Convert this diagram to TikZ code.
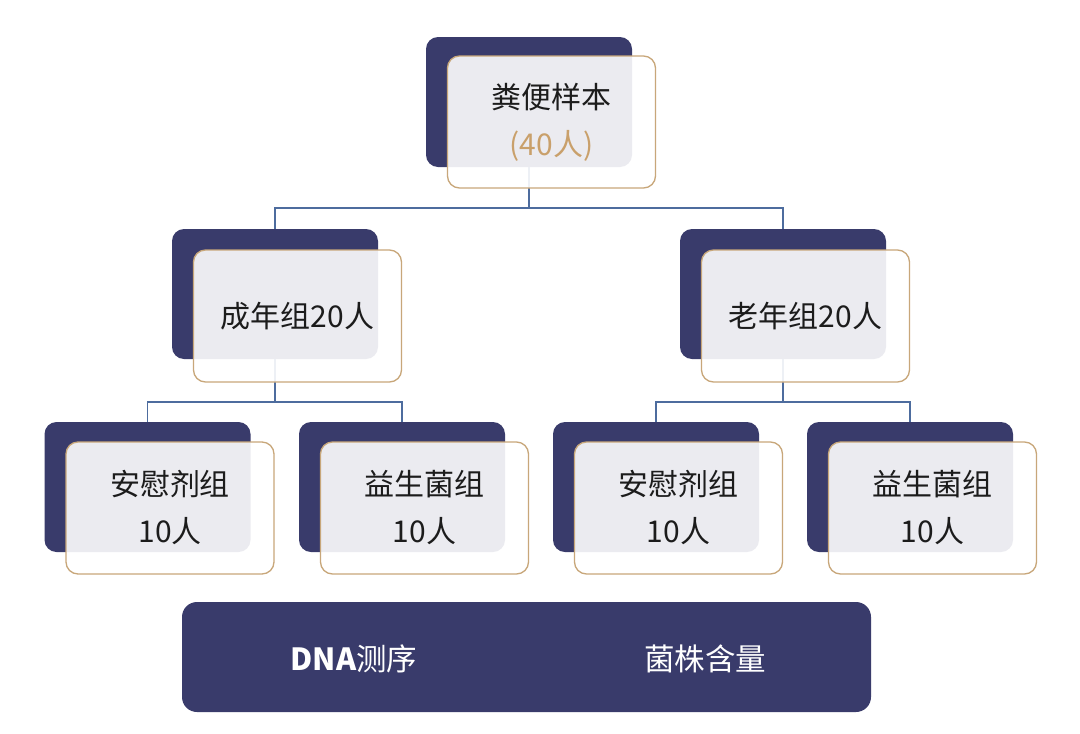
\documentclass[tikz,border=0pt]{standalone}
\usepackage{fontspec}
\setmainfont{Noto Sans CJK SC}
\usetikzlibrary{calc}
\definecolor{navy}{HTML}{393B6B}
\definecolor{tan}{HTML}{C8A77A}
\definecolor{tantext}{HTML}{C9A06B}
\definecolor{linkblue}{HTML}{4D6C9E}
\definecolor{ink}{HTML}{1C1C1C}
\tikzset{
	back/.style={fill=navy, rounded corners=12pt, minimum width=206pt, minimum height=130pt, inner sep=0pt},
	front/.style={draw=tan, line width=1.3pt, fill=white, fill opacity=0.9, text opacity=1, rounded corners=12pt,
		minimum width=208pt, minimum height=132pt, inner sep=0pt, align=center, text=ink,
		font=\fontsize{30}{47}\selectfont},
	link/.style={draw=linkblue, line width=1.5pt},
	bartext/.style={text=white, font=\fontsize{30.5}{36}\selectfont}
}

\begin{document}
\begin{tikzpicture}[x=1pt, y=1pt]
			%%%%% START %%%%%
			
			\fill[white] (0,0) rectangle (1080,-734);
			\useasboundingbox (0,0) rectangle (1080,-734);
			
			% back cards
			\node[back] (sample-d) at (529,-102) {};
			\node[back] (adult-d) at (275,-294) {};
			\node[back] (elder-d) at (783,-294) {};
			\node[back] (aplac-d) at (147.5,-487) {};
			\node[back] (aprob-d) at (402,-487) {};
			\node[back] (eplac-d) at (656,-487) {};
			\node[back] (eprob-d) at (910,-487) {};
			
			% tree lines
			\draw[link] (sample-d.south) -- ++(0,-41) coordinate (j0);
			\draw[link] (adult-d.north) |- (j0) -| (elder-d.north);
			\draw[link] (adult-d.south) -- ++(0,-43) coordinate (j1);
			\draw[link] (aplac-d.north) |- (j1) -| (aprob-d.north);
			\draw[link] (elder-d.south) -- ++(0,-43) coordinate (j2);
			\draw[link] (eplac-d.north) |- (j2) -| (eprob-d.north);
			
			% front cards
			\node[front] (sample) at ([shift={(22.5,-20)}]sample-d.center) {粪便样本\\{\color{tantext}(40人)}};
			\node[front] (adult) at ([shift={(22.5,-22)}]adult-d.center) {成年组20人};
			\node[front] (elder) at ([shift={(22.5,-22)}]elder-d.center) {老年组20人};
			\node[front] (aplac) at ([shift={(22.5,-21)}]aplac-d.center) {安慰剂组\\10人};
			\node[front] (aprob) at ([shift={(22.5,-21)}]aprob-d.center) {益生菌组\\10人};
			\node[front] (eplac) at ([shift={(22.5,-21)}]eplac-d.center) {安慰剂组\\10人};
			\node[front] (eprob) at ([shift={(22.5,-21)}]eprob-d.center) {益生菌组\\10人};
			
			% bottom bar
			\node[fill=navy, rounded corners=15pt, minimum width=689pt, minimum height=110pt, inner sep=0pt] (bar) at (526.5,-657) {};
			\node[bartext] (dna) at (354,-659) {\textbf{DNA}测序};
			\node[bartext] (strain) at (705,-659) {菌株含量};
			
			%%%%% END %%%%%
\end{tikzpicture}
\end{document}
